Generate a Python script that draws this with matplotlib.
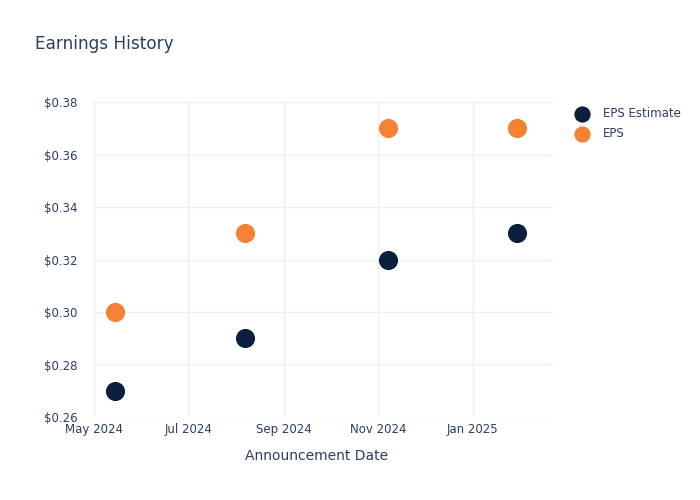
import matplotlib
matplotlib.use("Agg")
import matplotlib.pyplot as plt
import pandas as pd

dates = ["2024-05-15", "2024-08-07", "2024-11-07", "2025-01-30"]
eps_estimate = [0.27, 0.29, 0.32, 0.33]
eps_actual = [0.30, 0.33, 0.37, 0.37]
tick_dates = ["2024-05-01", "2024-07-01", "2024-09-01", "2024-11-01", "2025-01-01"]
tick_labels = ["May 2024", "Jul 2024", "Sep 2024", "Nov 2024", "Jan 2025"]
y_ticks = [0.26, 0.28, 0.30, 0.32, 0.34, 0.36, 0.38]

text_color = "#2a3f5f"
grid_color = "#ebf0f8"
navy = "#0b1f3f"
orange = "#f58134"

fig = plt.figure(figsize=(7, 5), dpi=100)
ax = fig.add_axes([0.134, 0.166, 0.656, 0.63])

x = pd.to_datetime(dates)
ax.scatter(x, eps_estimate, s=190, color=navy, label="EPS Estimate", zorder=3, linewidths=0)
ax.scatter(x, eps_actual, s=190, color=orange, label="EPS", zorder=3, linewidths=0)

ax.set_xlim(pd.Timestamp("2024-05-01"), pd.Timestamp("2025-02-22"))
ax.set_ylim(0.26, 0.38)
ax.set_xticks(pd.to_datetime(tick_dates))
ax.set_xticklabels(tick_labels)
ax.set_yticks(y_ticks)
ax.set_yticklabels([f"${v:.2f}" for v in y_ticks])

ax.grid(True, color=grid_color, linewidth=1, zorder=0)
ax.set_axisbelow(True)
for sp in ax.spines.values():
    sp.set_visible(False)
ax.tick_params(axis="both", length=0, labelsize=8.5, colors=text_color)
ax.tick_params(axis="y", pad=12)
ax.tick_params(axis="x", pad=4)

ax.set_xlabel("Announcement Date", fontsize=10, color=text_color, labelpad=10)
ax.xaxis.label.set_x(0.486)
fig.text(0.05, 0.912, "Earnings History", fontsize=12.2, color=text_color, va="center")

leg = ax.legend(loc="upper left", bbox_to_anchor=(1.028, 1.0), frameon=False,
                fontsize=8.5, labelcolor=text_color, handletextpad=0.75,
                borderaxespad=0, labelspacing=0.6, markerscale=0.85)

fig.savefig("out.png", dpi=100, facecolor="white")
